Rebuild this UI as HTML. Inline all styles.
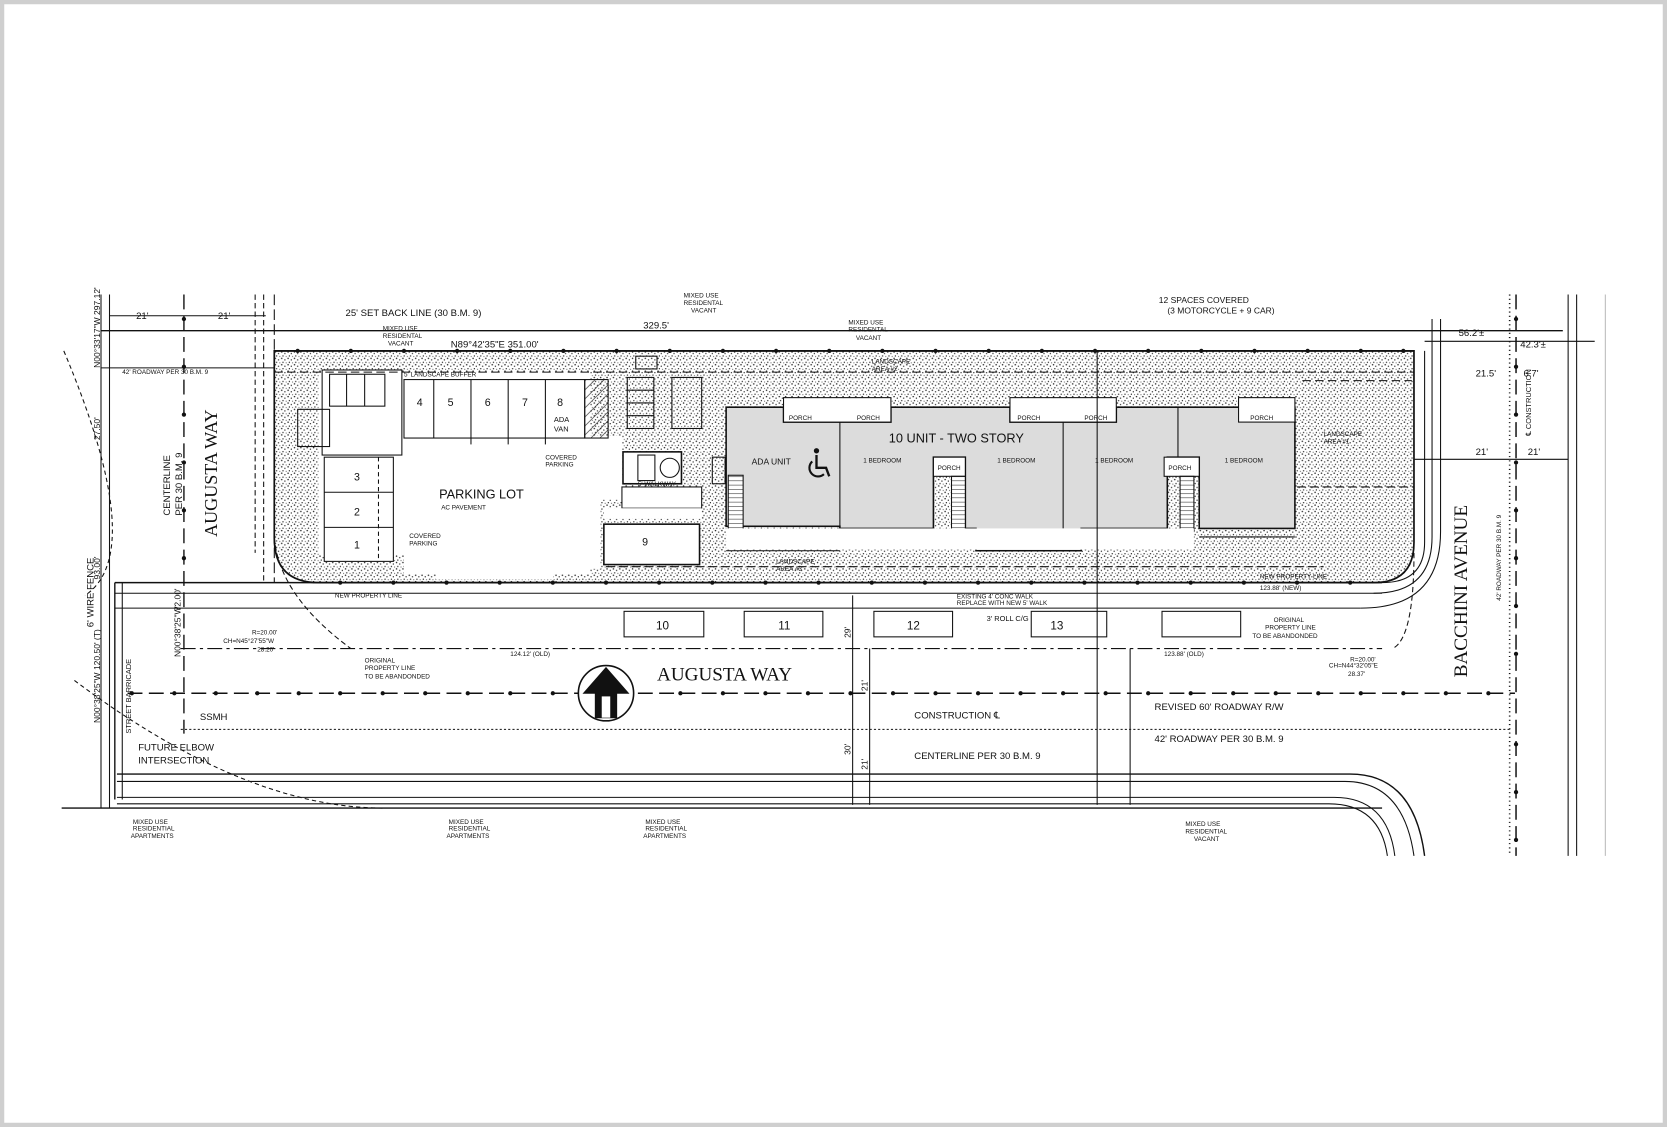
<!DOCTYPE html>
<html><head><meta charset="utf-8"><style>
html,body{margin:0;padding:0;background:#fff}
svg{display:block}
text{font-family:"Liberation Sans",sans-serif;fill:#111}
.s{font-family:"Liberation Serif",serif}
</style></head><body>
<svg width="1667" height="1127" viewBox="0 0 1568 1060" preserveAspectRatio="none" xmlns="http://www.w3.org/2000/svg">
<defs>
<pattern id="st" width="6" height="6" patternUnits="userSpaceOnUse">
<rect width="6" height="6" fill="#fff"/>
<circle cx="1" cy="1" r="0.7" fill="#222"/><circle cx="4" cy="2.5" r="0.6" fill="#222"/><circle cx="2.2" cy="4.8" r="0.6" fill="#222"/><circle cx="5.2" cy="5.3" r="0.5" fill="#333"/>
</pattern>
<pattern id="hat" width="6" height="6" patternUnits="userSpaceOnUse" patternTransform="rotate(45)">
<line x1="0" y1="0" x2="0" y2="6" stroke="#222" stroke-width="1.2"/></pattern>
<pattern id="stair" width="8" height="4" patternUnits="userSpaceOnUse"><rect width="8" height="4" fill="#fff"/><line x1="0" y1="0" x2="8" y2="0" stroke="#222" stroke-width="1"/></pattern>
</defs>
<rect x="2" y="2" width="1564" height="1056" fill="#fff" stroke="#cfcfcf" stroke-width="4"/>
<g stroke="#111" fill="none" stroke-width="1">
<path d="M258,330 H1330 V510 Q1330,548 1292,548 H300 Q258,548 258,506 Z" fill="url(#st)" stroke-width="1.6"/>
<path d="M300,350 H555 V410 H585 V470 H565 V535 H530 Q520,535 520,545 H410 Q410,522 400,522 H300 Z" fill="#fff" stroke="none"/>
<rect x="380" y="350" width="175" height="190" fill="#fff" stroke="none"/>
<rect x="303" y="348" width="75" height="80" fill="#fff"/>
<rect x="380" y="357" width="170" height="55" fill="#fff"/>
<line x1="408" y1="357" x2="408" y2="412"/><line x1="443" y1="357" x2="443" y2="418"/><line x1="478" y1="357" x2="478" y2="418"/><line x1="513" y1="357" x2="513" y2="418"/>
<rect x="550" y="357" width="22" height="55" fill="url(#hat)"/>
<rect x="305" y="430" width="65" height="98" fill="#fff"/>
<line x1="305" y1="463" x2="370" y2="463"/><line x1="305" y1="496" x2="370" y2="496"/>
<line x1="356" y1="430" x2="356" y2="528" stroke-dasharray="4,3"/>
<rect x="310" y="352" width="52" height="30"/><line x1="326" y1="352" x2="326" y2="382"/><line x1="343" y1="352" x2="343" y2="382"/>
<rect x="280" y="385" width="30" height="35"/>
<rect x="590" y="355" width="25" height="48"/><rect x="632" y="355" width="28" height="48"/>
<line x1="590" y1="367" x2="615" y2="367"/><line x1="590" y1="379" x2="615" y2="379"/><line x1="590" y1="391" x2="615" y2="391"/>
<rect x="598" y="335" width="20" height="12"/>
<rect x="586" y="425" width="55" height="30" fill="#fff" stroke-width="1.5"/>
<rect x="600" y="428" width="16" height="24"/><circle cx="630" cy="440" r="9"/>
<rect x="585" y="458" width="75" height="20" fill="#fff"/>
<rect x="568" y="478" width="92" height="10" fill="#fff" stroke="none"/>
<rect x="568" y="493" width="90" height="38" fill="#fff" stroke-width="1.5"/>
<path d="M683,383 H737 V397 H838 V383 H950 V397 H1050 V383 H1218 V497 H1128 V430 H1098 V497 H1017 V518 H918 V497 H908 V430 H878 V497 H790 V495 H683 Z" fill="#dcdcdc" stroke-width="1.5"/>
<line x1="790" y1="383" x2="790" y2="497"/><line x1="1000" y1="383" x2="1000" y2="497"/><line x1="1108" y1="383" x2="1108" y2="430"/>
<rect x="737" y="374" width="101" height="23" fill="#fff"/><rect x="950" y="374" width="100" height="23" fill="#fff"/><rect x="1165" y="374" width="53" height="23" fill="#fff"/>
<rect x="878" y="430" width="30" height="18" fill="#fff"/><rect x="1095" y="430" width="33" height="18" fill="#fff"/>
<rect x="685" y="447" width="14" height="56" fill="url(#stair)"/><rect x="895" y="448" width="13" height="52" fill="url(#stair)"/><rect x="1110" y="448" width="13" height="52" fill="url(#stair)"/>
<rect x="670" y="430" width="12" height="25"/>
<rect x="683" y="497" width="440" height="20" fill="#fff" stroke="none"/>
<path d="M683,518 H790 M918,518 H1017 M1128,505 H1218" />
<!-- wheelchair -->
<circle cx="768" cy="424" r="2.5" fill="#111" stroke="none"/>
<path d="M768,428 V440 H777 L780,448" stroke-width="2.2"/>
<path d="M764,434 A8,8 0 1 0 775,446" stroke-width="2"/>
<line x1="95" y1="311" x2="1470" y2="311" stroke-width="1.3"/>
<line x1="258" y1="330" x2="1330" y2="330" stroke-width="1.6"/>
<line x1="1340" y1="321" x2="1500" y2="321"/>
<line x1="95" y1="346" x2="258" y2="346"/>
<line x1="258" y1="350" x2="1330" y2="350" stroke-dasharray="8,4"/>
<line x1="570" y1="533" x2="1245" y2="533" stroke-dasharray="8,4"/>
<line x1="1225" y1="358" x2="1328" y2="358" stroke-dasharray="8,4"/>
<line x1="1220" y1="458" x2="1330" y2="458" stroke-dasharray="8,4"/>
<line x1="108" y1="548" x2="1300" y2="548" stroke-width="1.5"/>
<line x1="108" y1="558" x2="1300" y2="558"/>
<line x1="108" y1="572" x2="1280" y2="572"/>
<path d="M1300,548 Q1340,548 1340,510 V330"/>
<path d="M1280,572 Q1355,572 1355,500 V300"/>
<path d="M1292,558 Q1347,558 1347,505 V300"/>
<line x1="108" y1="548" x2="108" y2="752" stroke-width="1.3"/>
<line x1="115" y1="548" x2="115" y2="752"/>
<path d="M103,277 V760"/><path d="M95,277 V760"/>
<line x1="120" y1="652" x2="1425" y2="652" stroke-dasharray="14,6" stroke-width="1.4"/>
<line x1="170" y1="686" x2="1420" y2="686" stroke-dasharray="2,2"/>
<line x1="170" y1="610" x2="1300" y2="610" stroke-dasharray="14,4,3,4"/>
<path d="M110,728 H1270 Q1330,728 1340,805" stroke-width="1.3"/>
<path d="M110,735 H1265 Q1320,735 1330,805"/>
<path d="M110,750 H1255 Q1305,750 1312,805"/>
<path d="M110,756 H1250 Q1298,756 1305,805"/>
<line x1="58" y1="760" x2="1300" y2="760" stroke-width="1.3"/>
<line x1="173" y1="277" x2="173" y2="690" stroke-dasharray="14,6" stroke-width="1.3"/>
<line x1="248" y1="277" x2="248" y2="548" stroke-dasharray="5,3"/>
<line x1="240" y1="277" x2="240" y2="520" stroke-dasharray="5,3"/>
<line x1="258" y1="277" x2="258" y2="548" stroke-dasharray="10,4"/>
<path d="M258,505 Q262,560 330,610" stroke-dasharray="5,3"/>
<path d="M1330,520 Q1330,600 1310,610" stroke-dasharray="5,3"/>
<line x1="1420" y1="277" x2="1420" y2="805" stroke-dasharray="1,3" stroke-width="1.5"/>
<line x1="1426" y1="277" x2="1426" y2="805" stroke-dasharray="14,6" stroke-width="1.4"/>
<line x1="1475" y1="277" x2="1475" y2="805"/>
<line x1="1483" y1="277" x2="1483" y2="805"/>
<line x1="1510" y1="277" x2="1510" y2="805" stroke="#bbb"/>
<rect x="587" y="575" width="75" height="24"/><rect x="700" y="575" width="74" height="24"/><rect x="822" y="575" width="74" height="24"/><rect x="970" y="575" width="71" height="24"/><rect x="1093" y="575" width="74" height="24"/>
<line x1="802" y1="560" x2="802" y2="757"/><line x1="818" y1="610" x2="818" y2="757"/>
<line x1="1032" y1="330" x2="1032" y2="757"/><line x1="1063" y1="610" x2="1063" y2="757"/>
<line x1="1420" y1="432" x2="1475" y2="432"/><line x1="1330" y1="432" x2="1420" y2="432"/>
<line x1="103" y1="297" x2="250" y2="297"/>
<path d="M60,330 Q140,520 80,560" stroke-dasharray="4,3"/>
<path d="M70,640 Q230,760 360,760" stroke-dasharray="4,3"/>
<circle cx="570" cy="652" r="26" fill="#fff" stroke-width="1.5"/>
<path d="M570,628 L549,652 H560 V675 H580 V652 H591 Z" fill="#111"/>
<rect x="566" y="655" width="8" height="20" fill="#fff" stroke="none"/>
</g>
<g fill="#111" font-size="7">
<text x="1090" y="285" font-size="8">12 SPACES COVERED</text>
<text x="1098" y="295" font-size="8">(3 MOTORCYCLE + 9 CAR)</text>
<text x="325" y="297" font-size="9">25' SET BACK LINE (30 B.M. 9)</text>
<text x="424" y="327" font-size="9">N89°42'35"E 351.00'</text>
<text x="605" y="309" font-size="9">329.5'</text>
<text x="128" y="300" font-size="9">21'</text><text x="205" y="300" font-size="9">21'</text>
<text x="1372" y="316" font-size="9">56.2'±</text><text x="1430" y="327" font-size="9">42.3'±</text>
<text x="1388" y="354" font-size="9">21.5'</text><text x="1433" y="354" font-size="9">6.7'</text>
<text x="1388" y="428" font-size="9">21'</text><text x="1437" y="428" font-size="9">21'</text>
<text x="413" y="469" font-size="12">PARKING LOT</text>
<text x="415" y="479" font-size="6">AC PAVEMENT</text>
<text x="836" y="416" font-size="12">10 UNIT - TWO STORY</text>
<text x="707" y="437" font-size="8">ADA UNIT</text>
<text x="742" y="395" font-size="6">PORCH</text><text x="806" y="395" font-size="6">PORCH</text>
<text x="957" y="395" font-size="6">PORCH</text><text x="1020" y="395" font-size="6">PORCH</text><text x="1176" y="395" font-size="6">PORCH</text>
<text x="882" y="442" font-size="6">PORCH</text><text x="1099" y="442" font-size="6">PORCH</text>
<text x="812" y="435" font-size="6">1 BEDROOM</text><text x="938" y="435" font-size="6">1 BEDROOM</text><text x="1030" y="435" font-size="6">1 BEDROOM</text><text x="1152" y="435" font-size="6">1 BEDROOM</text>
<text x="392" y="382" font-size="10">4</text><text x="421" y="382" font-size="10">5</text><text x="456" y="382" font-size="10">6</text><text x="491" y="382" font-size="10">7</text><text x="524" y="382" font-size="10">8</text>
<text x="521" y="397" font-size="7">ADA</text><text x="521" y="406" font-size="7">VAN</text>
<text x="333" y="452" font-size="10">3</text><text x="333" y="485" font-size="10">2</text><text x="333" y="516" font-size="10">1</text>
<text x="604" y="513" font-size="10">9</text>
<text x="617" y="592" font-size="11">10</text><text x="732" y="592" font-size="11">11</text><text x="853" y="592" font-size="11">12</text><text x="988" y="592" font-size="11">13</text>
<text x="600" y="457" font-size="6">5' WALKWAY</text>
<text x="385" y="506" font-size="6">COVERED</text><text x="385" y="513" font-size="6">PARKING</text>
<text x="513" y="432" font-size="6">COVERED</text><text x="513" y="439" font-size="6">PARKING</text>
<text x="380" y="354" font-size="6">5' LANDSCAPE BUFFER</text>
<text x="820" y="342" font-size="6">LANDSCAPE</text><text x="820" y="349" font-size="6">AREA #2</text>
<text x="1245" y="410" font-size="6">LANDSCAPE</text><text x="1245" y="417" font-size="6">AREA #1</text>
<text x="730" y="530" font-size="6">LANDSCAPE</text><text x="730" y="537" font-size="6">AREA #3</text>
<text x="360" y="311" font-size="6">MIXED USE</text><text x="360" y="318" font-size="6">RESIDENTAL</text><text x="365" y="325" font-size="6">VACANT</text>
<text x="643" y="280" font-size="6">MIXED USE</text><text x="643" y="287" font-size="6">RESIDENTAL</text><text x="650" y="294" font-size="6">VACANT</text>
<text x="798" y="305" font-size="6">MIXED USE</text><text x="798" y="312" font-size="6">RESIDENTAL</text><text x="805" y="320" font-size="6">VACANT</text>
<text x="115" y="352" font-size="6">42' ROADWAY PER 30 B.M. 9</text>
<text x="315" y="562" font-size="6">NEW PROPERTY LINE</text>
<text x="1185" y="544" font-size="6">NEW PROPERTY LINE</text>
<text x="900" y="563" font-size="6">EXISTING 4' CONC WALK</text><text x="900" y="569" font-size="6">REPLACE WITH NEW 5' WALK</text>
<text x="928" y="584" font-size="7">3' ROLL C/G</text>
<text x="480" y="617" font-size="6">124.12' (OLD)</text><text x="1095" y="617" font-size="6">123.88' (OLD)</text>
<text x="1185" y="555" font-size="6">123.88' (NEW)</text>
<text x="237" y="597" font-size="6">R=20.00'</text><text x="210" y="605" font-size="6">CH=N45°27'55"W</text><text x="242" y="613" font-size="6">28.20'</text>
<text x="343" y="623" font-size="6">ORIGINAL</text><text x="343" y="630" font-size="6">PROPERTY LINE</text><text x="343" y="638" font-size="6">TO BE ABANDONDED</text>
<text x="1198" y="585" font-size="6">ORIGINAL</text><text x="1190" y="592" font-size="6">PROPERTY LINE</text><text x="1178" y="600" font-size="6">TO BE ABANDONDED</text>
<text x="1270" y="622" font-size="6">R=20.00'</text><text x="1250" y="628" font-size="6">CH=N44°32'05"E</text><text x="1268" y="636" font-size="6">28.37'</text>
<text class="s" x="618" y="640" font-size="18">AUGUSTA WAY</text>
<text x="188" y="677" font-size="9">SSMH</text>
<text x="860" y="676" font-size="9">CONSTRUCTION ℄</text>
<text x="860" y="714" font-size="9">CENTERLINE PER 30 B.M. 9</text>
<text x="1086" y="668" font-size="9">REVISED 60' ROADWAY R/W</text>
<text x="1086" y="698" font-size="9">42' ROADWAY PER 30 B.M. 9</text>
<text x="130" y="706" font-size="9">FUTURE ELBOW</text><text x="130" y="718" font-size="9">INTERSECTION</text>
<text x="125" y="775" font-size="6">MIXED USE</text><text x="125" y="781" font-size="6">RESIDENTIAL</text><text x="123" y="788" font-size="6">APARTMENTS</text>
<text x="422" y="775" font-size="6">MIXED USE</text><text x="422" y="781" font-size="6">RESIDENTIAL</text><text x="420" y="788" font-size="6">APARTMENTS</text>
<text x="607" y="775" font-size="6">MIXED USE</text><text x="607" y="781" font-size="6">RESIDENTIAL</text><text x="605" y="788" font-size="6">APARTMENTS</text>
<text x="1115" y="777" font-size="6">MIXED USE</text><text x="1115" y="784" font-size="6">RESIDENTIAL</text><text x="1123" y="791" font-size="6">VACANT</text>
<text class="s" transform="translate(204,505) rotate(-90)" font-size="17">AUGUSTA WAY</text>
<text transform="translate(160,485) rotate(-90)" font-size="9">CENTERLINE</text>
<text transform="translate(171,485) rotate(-90)" font-size="9">PER 30 B.M. 9</text>
<text transform="translate(88,590) rotate(-90)" font-size="9">6' WIRE FENCE</text>
<text transform="translate(94,346) rotate(-90)" font-size="8">N00°33'17"W 297.12'</text>
<text transform="translate(94,414) rotate(-90)" font-size="8">27.50'</text>
<text transform="translate(94,545) rotate(-90)" font-size="8">93.00'</text>
<text transform="translate(94,680) rotate(-90)" font-size="8">N00°38'25"W 120.50' (T)</text>
<text transform="translate(170,618) rotate(-90)" font-size="8">N00°38'25"W</text>
<text transform="translate(170,575) rotate(-90)" font-size="8">72.00'</text>
<text transform="translate(123,690) rotate(-90)" font-size="7">STREET BARRICADE</text>
<text class="s" transform="translate(1380,637) rotate(-90)" font-size="18">BACCHINI AVENUE</text>
<text transform="translate(1412,565) rotate(-90)" font-size="6">42' ROADWAY PER 30 B.M. 9</text>
<text transform="translate(1440,410) rotate(-90)" font-size="7">℄ CONSTRUCTION</text>
<text transform="translate(800,600) rotate(-90)" font-size="8">29'</text>
<text transform="translate(816,650) rotate(-90)" font-size="8">21'</text>
<text transform="translate(800,710) rotate(-90)" font-size="8">30'</text>
<text transform="translate(816,724) rotate(-90)" font-size="8">21'</text>
</g>
<g fill="#111">
<circle cx="280" cy="330" r="2"/><circle cx="330" cy="330" r="2"/><circle cx="380" cy="330" r="2"/><circle cx="430" cy="330" r="2"/><circle cx="480" cy="330" r="2"/><circle cx="530" cy="330" r="2"/><circle cx="580" cy="330" r="2"/><circle cx="630" cy="330" r="2"/><circle cx="680" cy="330" r="2"/><circle cx="730" cy="330" r="2"/><circle cx="780" cy="330" r="2"/><circle cx="830" cy="330" r="2"/><circle cx="880" cy="330" r="2"/><circle cx="930" cy="330" r="2"/><circle cx="980" cy="330" r="2"/><circle cx="1030" cy="330" r="2"/><circle cx="1080" cy="330" r="2"/><circle cx="1130" cy="330" r="2"/><circle cx="1180" cy="330" r="2"/><circle cx="1230" cy="330" r="2"/><circle cx="1280" cy="330" r="2"/><circle cx="1320" cy="330" r="2"/>
<circle cx="320" cy="548" r="2"/><circle cx="370" cy="548" r="2"/><circle cx="420" cy="548" r="2"/><circle cx="470" cy="548" r="2"/><circle cx="520" cy="548" r="2"/><circle cx="570" cy="548" r="2"/><circle cx="620" cy="548" r="2"/><circle cx="670" cy="548" r="2"/><circle cx="720" cy="548" r="2"/><circle cx="770" cy="548" r="2"/><circle cx="820" cy="548" r="2"/><circle cx="870" cy="548" r="2"/><circle cx="920" cy="548" r="2"/><circle cx="970" cy="548" r="2"/><circle cx="1020" cy="548" r="2"/><circle cx="1070" cy="548" r="2"/><circle cx="1120" cy="548" r="2"/><circle cx="1170" cy="548" r="2"/><circle cx="1220" cy="548" r="2"/><circle cx="1270" cy="548" r="2"/>
<circle cx="124" cy="652" r="2"/><circle cx="164" cy="652" r="2"/><circle cx="203" cy="652" r="2"/><circle cx="242" cy="652" r="2"/><circle cx="281" cy="652" r="2"/><circle cx="320" cy="652" r="2"/><circle cx="360" cy="652" r="2"/><circle cx="400" cy="652" r="2"/><circle cx="440" cy="652" r="2"/><circle cx="480" cy="652" r="2"/><circle cx="520" cy="652" r="2"/><circle cx="640" cy="652" r="2"/><circle cx="680" cy="652" r="2"/><circle cx="720" cy="652" r="2"/><circle cx="760" cy="652" r="2"/><circle cx="800" cy="652" r="2"/><circle cx="840" cy="652" r="2"/><circle cx="880" cy="652" r="2"/><circle cx="920" cy="652" r="2"/><circle cx="960" cy="652" r="2"/><circle cx="1000" cy="652" r="2"/><circle cx="1040" cy="652" r="2"/><circle cx="1080" cy="652" r="2"/><circle cx="1120" cy="652" r="2"/><circle cx="1160" cy="652" r="2"/><circle cx="1200" cy="652" r="2"/><circle cx="1240" cy="652" r="2"/><circle cx="1280" cy="652" r="2"/><circle cx="1320" cy="652" r="2"/><circle cx="1360" cy="652" r="2"/><circle cx="1400" cy="652" r="2"/>
<circle cx="1426" cy="300" r="2"/><circle cx="1426" cy="345" r="2"/><circle cx="1426" cy="390" r="2"/><circle cx="1426" cy="435" r="2"/><circle cx="1426" cy="480" r="2"/><circle cx="1426" cy="525" r="2"/><circle cx="1426" cy="570" r="2"/><circle cx="1426" cy="615" r="2"/><circle cx="1426" cy="700" r="2"/><circle cx="1426" cy="745" r="2"/><circle cx="1426" cy="790" r="2"/>
<circle cx="173" cy="300" r="2"/><circle cx="173" cy="345" r="2"/><circle cx="173" cy="390" r="2"/><circle cx="173" cy="435" r="2"/><circle cx="173" cy="480" r="2"/><circle cx="173" cy="525" r="2"/>
</g>
</svg>
</body></html>
